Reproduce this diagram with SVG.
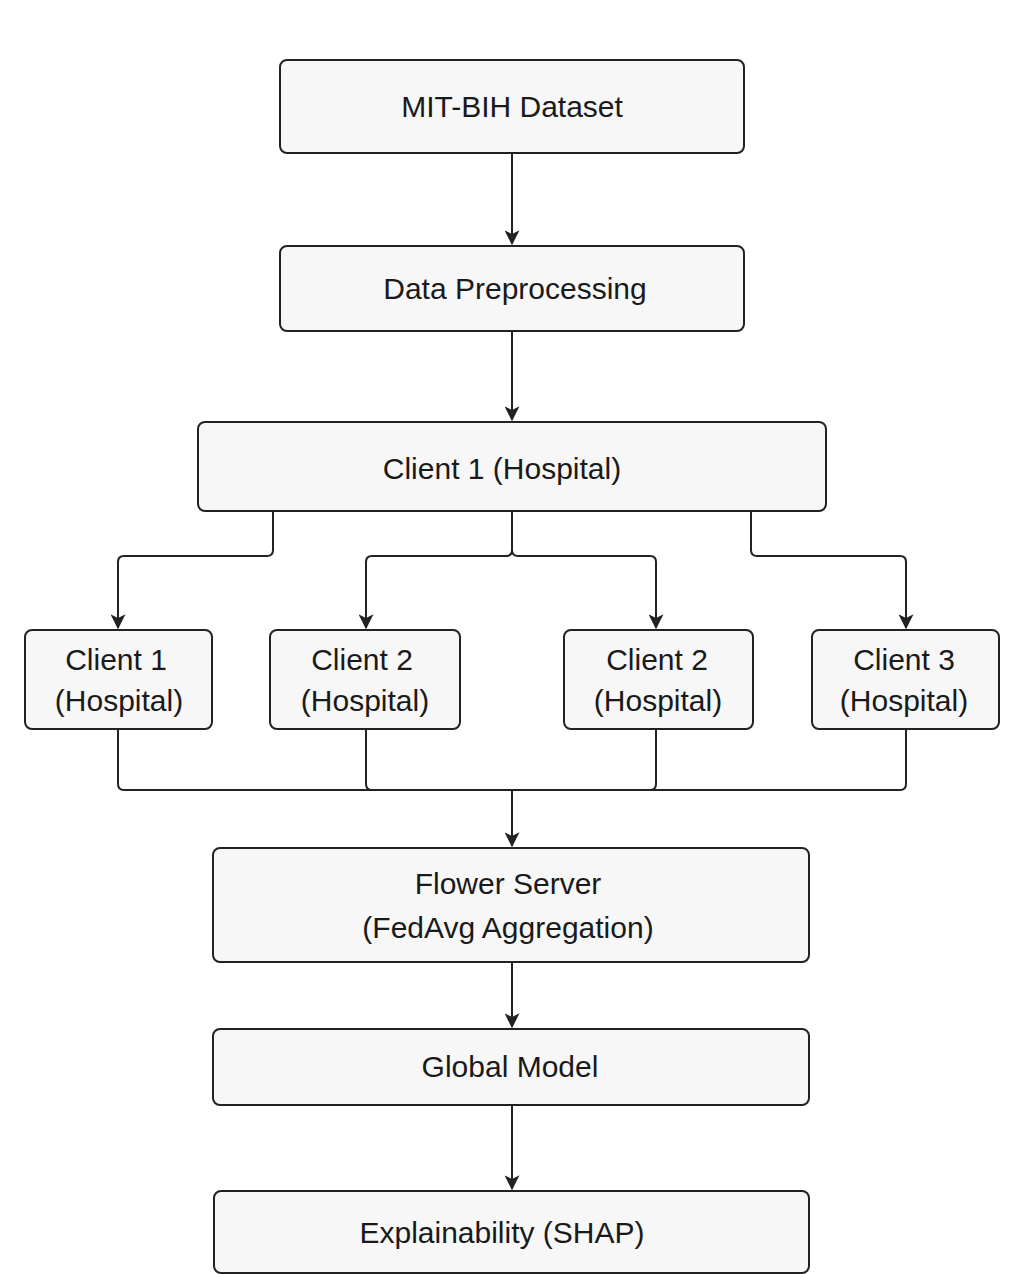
<svg xmlns="http://www.w3.org/2000/svg" width="1024" height="1274" viewBox="0 0 1024 1274">
<style>
.b{fill:#f7f7f7;stroke:#222;stroke-width:2}
.t{font-family:"Liberation Sans",Arial,sans-serif;font-size:30px;fill:#1a1a1a;text-anchor:middle}
.c{fill:none;stroke:#222;stroke-width:2}
</style>
<defs><marker id="a" viewBox="0 0 12 12" refX="11" refY="6" markerWidth="15" markerHeight="15" markerUnits="userSpaceOnUse" orient="auto"><path d="M0,0L12,6L0,12L3,6z" fill="#222"/></marker></defs>
<rect width="1024" height="1274" fill="#fff"/>
<g id="connectors">
<path class="c" d="M512,153V244" marker-end="url(#a)"/>
<path class="c" d="M512,331V420" marker-end="url(#a)"/>
<path class="c" d="M273,511V550Q273,556 267,556H124Q118,556 118,562V628" marker-end="url(#a)"/>
<path class="c" d="M512,511V550Q512,556 506,556H372Q366,556 366,562V628" marker-end="url(#a)"/>
<path class="c" d="M512,550Q512,556 518,556H650Q656,556 656,562V628" marker-end="url(#a)"/>
<path class="c" d="M751,511V550Q751,556 757,556H900Q906,556 906,562V628" marker-end="url(#a)"/>
<path class="c" d="M118,729V784Q118,790 124,790H900Q906,790 906,784V729"/>
<path class="c" d="M366,729V784Q366,790 372,790M656,729V784Q656,790 650,790"/>
<path class="c" d="M512,790V846" marker-end="url(#a)"/>
<path class="c" d="M512,962V1027" marker-end="url(#a)"/>
<path class="c" d="M512,1105V1189" marker-end="url(#a)"/>
</g>
<g id="n1"><rect class="b" x="280" y="60" width="464" height="93" rx="7"/><text class="t" x="512" y="117">MIT-BIH Dataset</text></g>
<g id="n2"><rect class="b" x="280" y="246" width="464" height="85" rx="7"/><text class="t" x="515" y="299">Data Preprocessing</text></g>
<g id="n3"><rect class="b" x="198" y="422" width="628" height="89" rx="7"/><text class="t" x="502" y="479">Client 1 (Hospital)</text></g>
<g id="c1"><rect class="b" x="25" y="630" width="187" height="99" rx="7"/><text class="t" x="116" y="670">Client 1</text><text class="t" x="119" y="711">(Hospital)</text></g>
<g id="c2"><rect class="b" x="270" y="630" width="190" height="99" rx="7"/><text class="t" x="362" y="670">Client 2</text><text class="t" x="365" y="711">(Hospital)</text></g>
<g id="c3"><rect class="b" x="564" y="630" width="189" height="99" rx="7"/><text class="t" x="657" y="670">Client 2</text><text class="t" x="658" y="711">(Hospital)</text></g>
<g id="c4"><rect class="b" x="812" y="630" width="187" height="99" rx="7"/><text class="t" x="904" y="670">Client 3</text><text class="t" x="904" y="711">(Hospital)</text></g>
<g id="n4"><rect class="b" x="213" y="848" width="596" height="114" rx="7"/><text class="t" x="508" y="894">Flower Server</text><text class="t" x="508" y="938">(FedAvg Aggregation)</text></g>
<g id="n5"><rect class="b" x="213" y="1029" width="596" height="76" rx="7"/><text class="t" x="510" y="1077">Global Model</text></g>
<g id="n6"><rect class="b" x="214" y="1191" width="595" height="82" rx="7"/><text class="t" x="502" y="1243">Explainability (SHAP)</text></g>
</svg>
